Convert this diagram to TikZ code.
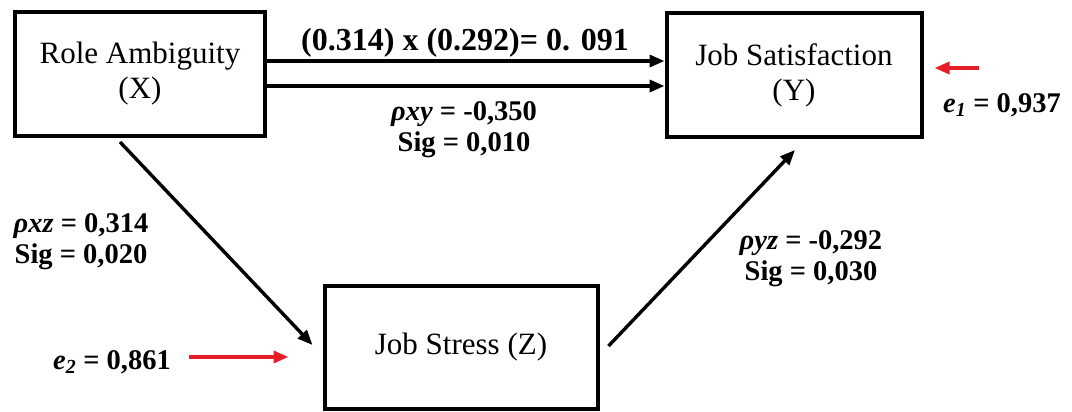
\documentclass[tikz,border=0pt]{standalone}
\usepackage{fontspec}
\setmainfont{Liberation Serif}
\usetikzlibrary{arrows.meta,calc}

\begin{document}
\begin{tikzpicture}[x=1pt,y=-1pt]
\tikzstyle{var}=[
  draw,
  line width=4pt,
  minimum width=250pt,
  minimum height=124pt,
  inner sep=0pt,
  align=center,
  font=\fontsize{31}{35}\selectfont ]
\tikzstyle{link}=[line width=3.4pt, -{Triangle[length=15pt,width=12pt]}]
\tikzstyle{err}=[link, draw={rgb,255:red,230;green,30;blue,40}]
\tikzstyle{coef}=[align=center, font=\bfseries\fontsize{28.5}{31}\selectfont]
\useasboundingbox (0,0) rectangle (1072,412);
\node[var] (X) at (140,74) {Role Ambiguity\\(X)};
\node[var, minimum width=255pt] (Y) at (794,75) {Job Satisfaction\\(Y)};
\node[var, minimum width=273pt, minimum height=123pt] (Z) at (461,347) {Job Stress (Z)};
\draw[link] ([yshift=13pt]X.east) -- ([yshift=13pt]X.east -| Y.west);
\draw[link] ([yshift=-12pt]X.east) -- ([yshift=-12pt]X.east -| Y.west);
\draw[link] ($(X.south)+(-20,4)$) -- ($(Z.west)+(-10,-2)$);
\draw[link] ($(Z.east)+(9,-1)$) -- ($(Y.south)+(1,11)$);
\coordinate (e1) at (979,68);
\coordinate (e2) at (189,357);
\draw[err] (e1) -- ($(Y.east)+(11,-7)$);
\draw[err] (e2) -- ($(Z.west)+(-34,10)$);
\node[coef, font=\bfseries\fontsize{32}{35}\selectfont] (prod) at (465,43) {(0.314) x (0.292)= 0. 091};
\node[coef] (rxy) at (464,130) {\textit{ρxy} = -0,350\\Sig = 0,010};
\node[coef] (rxz) at (81,242) {\textit{ρxz} = 0,314\\Sig = 0,020};
\node[coef] (ryz) at (811,259) {\textit{ρyz} = -0,292\\Sig = 0,030};
\node[coef] (e1l) at (1002,105) {\textit{e\textsubscript{1}} = 0,937};
\node[coef] (e2l) at (112,362) {\textit{e\textsubscript{2}} = 0,861};
\end{tikzpicture}
\end{document}
